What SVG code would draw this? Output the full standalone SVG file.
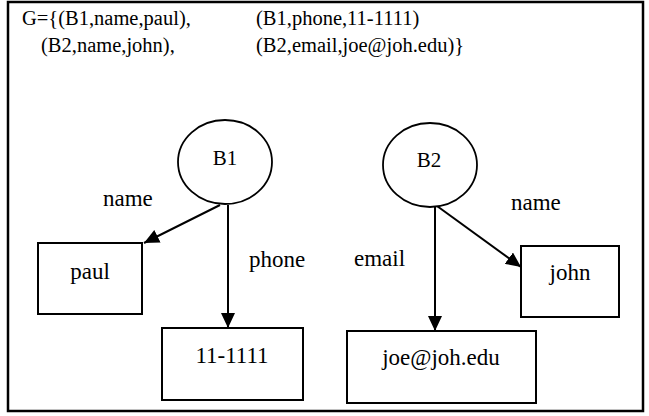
<svg xmlns="http://www.w3.org/2000/svg" width="649" height="416" viewBox="0 0 649 416">
  <style>
    .frame { fill: #ffffff; stroke: #000000; stroke-width: 2.5; }
    .node { fill: #ffffff; stroke: #000000; stroke-width: 2; }
    .blank { fill: #ffffff; stroke: #000000; stroke-width: 1.8; }
    .edge { fill: none; stroke: #000000; stroke-width: 2; }
    text { font-family: "Liberation Serif", "Times New Roman", serif; fill: #000000; }
    .head { font-size: 20.5px; }
    .lbl { font-size: 23px; }
    .val { font-size: 23px; text-anchor: middle; }
    .id { font-size: 21px; text-anchor: middle; }
  </style>
  <defs>
    <marker id="arrow" viewBox="0 0 15 14" refX="15" refY="7" markerWidth="15" markerHeight="14" markerUnits="userSpaceOnUse" orient="auto">
      <path d="M0,0 L15,7 L0,14 Z" fill="#000000"/>
    </marker>
  </defs>

  <!-- outer frame -->
  <rect class="frame" x="8" y="2" width="635" height="409"/>

  <!-- triple set -->
  <g id="triples">
    <text class="head" x="22" y="25">G={(B1,name,paul),</text>
    <text class="head" x="256" y="25">(B1,phone,11-1111)</text>
    <text class="head" x="41" y="52">(B2,name,john),</text>
    <text class="head" x="256" y="52">(B2,email,joe@joh.edu)}</text>
  </g>

  <!-- connectors -->
  <g id="edges">
    <line class="edge" x1="220" y1="205" x2="144" y2="243" marker-end="url(#arrow)"/>
    <line class="edge" x1="228" y1="205" x2="228" y2="328" marker-end="url(#arrow)"/>
    <line class="edge" x1="435" y1="206" x2="435" y2="331" marker-end="url(#arrow)"/>
    <line class="edge" x1="437" y1="206" x2="521" y2="267" marker-end="url(#arrow)"/>
    <text class="lbl" x="103" y="206">name</text>
    <text class="lbl" x="249" y="267">phone</text>
    <text class="lbl" x="354" y="266">email</text>
    <text class="lbl" x="511" y="210">name</text>
  </g>

  <!-- blank nodes -->
  <g id="B1">
    <ellipse class="blank" cx="225" cy="162" rx="47" ry="42"/>
    <text class="id" x="225" y="165">B1</text>
  </g>
  <g id="B2">
    <ellipse class="blank" cx="430" cy="165" rx="47" ry="42"/>
    <text class="id" x="429" y="167">B2</text>
  </g>

  <!-- literal values -->
  <g id="paul">
    <rect class="node" x="38" y="243" width="104" height="71"/>
    <text class="val" x="90" y="279">paul</text>
  </g>
  <g id="phone11">
    <rect class="node" x="162" y="328" width="141" height="72"/>
    <text class="val" x="232" y="363">11-1111</text>
  </g>
  <g id="email">
    <rect class="node" x="347" y="331" width="189" height="72"/>
    <text class="val" x="441" y="365">joe@joh.edu</text>
  </g>
  <g id="john">
    <rect class="node" x="521" y="246" width="98" height="71"/>
    <text class="val" x="570" y="280">john</text>
  </g>
</svg>
